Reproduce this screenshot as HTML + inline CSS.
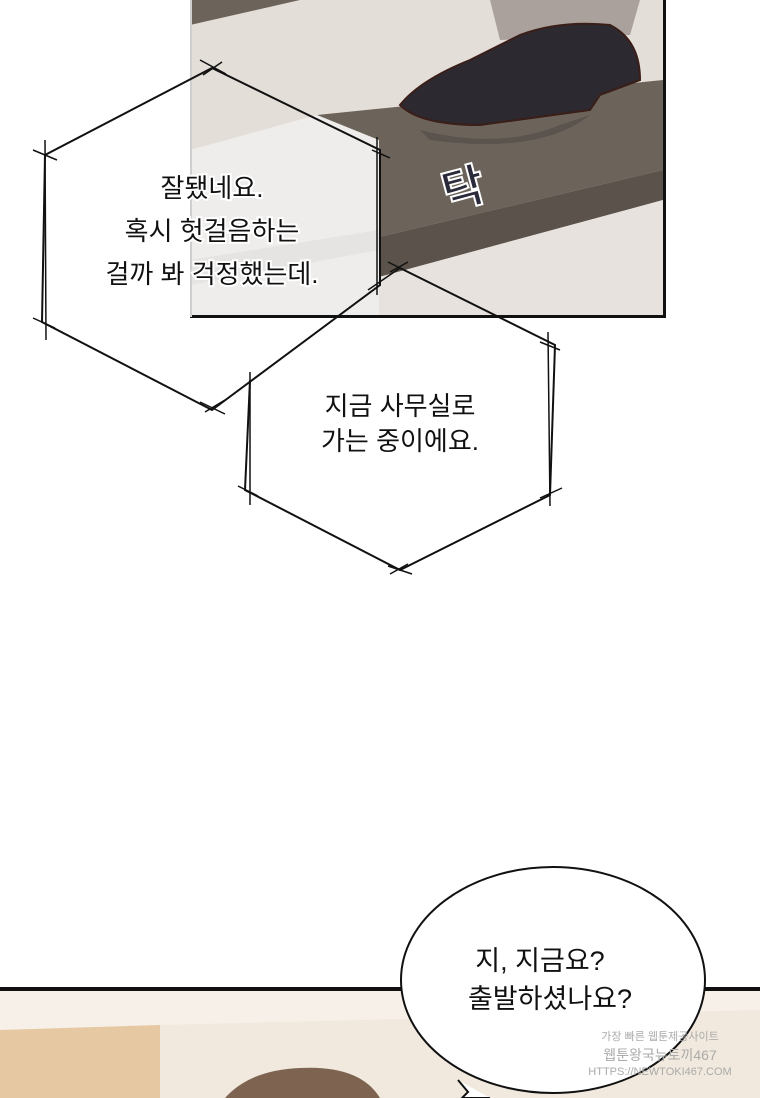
<!DOCTYPE html>
<html><head><meta charset="utf-8"><style>
html,body{margin:0;padding:0;background:#fff;}
body{width:760px;height:1098px;position:relative;overflow:hidden;font-family:"Liberation Sans","Noto Sans CJK KR",sans-serif;}
svg{position:absolute;left:0;top:0;}
</style></head><body>
<svg width="760" height="1098" viewBox="0 0 760 1098" xmlns="http://www.w3.org/2000/svg">
<polygon points="400,268 555,345 550,495 400,570 245,490 250,380" fill="#fff"/>
<polygon points="212,68 380,150 380,285 212,410 42,322 45,155" fill="#fff"/>
<rect x="190" y="0" width="475" height="317" fill="#e4ded8"/>
<polygon points="190,150 317,115 379,140 379,317 190,317" fill="#efedeb"/>
<polygon points="190,260 379,230 379,250 190,285" fill="#e6e4e2"/>
<polygon points="317,115 663,80 663,170 379,237 379,140" fill="#6c645b"/>
<polygon points="379,237 663,170 663,200 379,277" fill="#5b534b"/>
<polygon points="379,277 663,200 663,317 379,317" fill="#e7e2de"/>
<polygon points="190,0 300,0 190,25" fill="#6c645b"/>
<polygon points="490,0 640,0 630,35 500,40" fill="#aaa09c"/>
<path d="M400,105 Q420,80 470,60 L520,35 Q560,20 610,25 Q640,40 640,80 L600,95 L590,110 L480,125 Q420,125 400,105Z" fill="#2c2a30" stroke="#3a1e18" stroke-width="2"/>
<path d="M420,130 Q500,150 560,125 L590,115 Q540,155 430,140Z" fill="#4f4746" opacity="0.6"/>
<text x="440" y="205" font-size="46" font-weight="bold" fill="#2a2a3a" stroke="#fff" stroke-width="2" transform="rotate(-15 460 180)">탁</text>
<rect x="663" y="0" width="3" height="318" fill="#111"/>
<rect x="190" y="315" width="476" height="3" fill="#111"/>
<rect x="190" y="0" width="2" height="317" fill="#cfcfcf"/>
<polyline points="400,268 555,345 550,495 400,570 245,490 250,380" fill="none" stroke="#111" stroke-width="2"/>
<line x1="368" y1="290" x2="400" y2="268" stroke="#111" stroke-width="1.5"/>
<polygon points="212,68 380,150 380,285 212,410 42,322 45,155" fill="none" stroke="#111" stroke-width="2"/>
<g stroke="#111" stroke-width="1.5">
<line x1="200" y1="60" x2="226" y2="74"/><line x1="203" y1="75" x2="222" y2="62"/>
<line x1="377" y1="137" x2="377" y2="295"/><line x1="372" y1="150" x2="390" y2="158"/>
<line x1="33" y1="150" x2="57" y2="160"/><line x1="45" y1="140" x2="46" y2="340"/>
<line x1="33" y1="318" x2="55" y2="328"/><line x1="200" y1="402" x2="225" y2="414"/><line x1="205" y1="412" x2="225" y2="400"/>
<line x1="388" y1="262" x2="412" y2="274"/><line x1="390" y1="272" x2="408" y2="262"/>
<line x1="548" y1="332" x2="550" y2="506"/><line x1="540" y1="342" x2="560" y2="350"/><line x1="540" y1="498" x2="562" y2="488"/>
<line x1="250" y1="372" x2="250" y2="505"/><line x1="238" y1="486" x2="258" y2="496"/>
<line x1="388" y1="566" x2="412" y2="574"/><line x1="390" y1="574" x2="408" y2="564"/>
</g>
<g font-size="26" fill="#111" text-anchor="middle" stroke="#fff" stroke-width="4" paint-order="stroke">
<text x="212" y="197">잘됐네요.</text>
<text x="212" y="240">혹시 헛걸음하는</text>
<text x="212" y="283">걸까 봐 걱정했는데.</text>
<text x="400" y="415">지금 사무실로</text>
<text x="400" y="450">가는 중이에요.</text>
</g>
<rect x="0" y="989" width="760" height="109" fill="#f1e9de"/>
<rect x="0" y="1025" width="160" height="73" fill="#e6c9a3"/>
<polygon points="0,989 760,989 760,1010 160,1025 0,1030" fill="#f6f0e8"/>
<path d="M225,1098 Q250,1070 300,1068 Q360,1065 380,1098Z" fill="#7d6350"/>
<rect x="0" y="987" width="760" height="4" fill="#111"/>
<ellipse cx="553" cy="980" rx="152" ry="113" fill="#fff" stroke="#111" stroke-width="2"/>
<path d="M458,1080 L468,1092 L462,1098 L490,1098" fill="#fff" stroke="#111" stroke-width="2"/>
<g font-size="27" fill="#111" text-anchor="middle">
<text x="540" y="970">지, 지금요?</text>
<text x="550" y="1008">출발하셨나요?</text>
</g>
<g font-size="11" fill="#aaa" text-anchor="middle">
<text x="660" y="1040">가장 빠른 웹툰제공사이트</text>
<text x="660" y="1060" font-size="14">웹툰왕국뉴토끼467</text>
<text x="660" y="1075">HTTPS://NEWTOKI467.COM</text>
</g>
</svg>
</body></html>
